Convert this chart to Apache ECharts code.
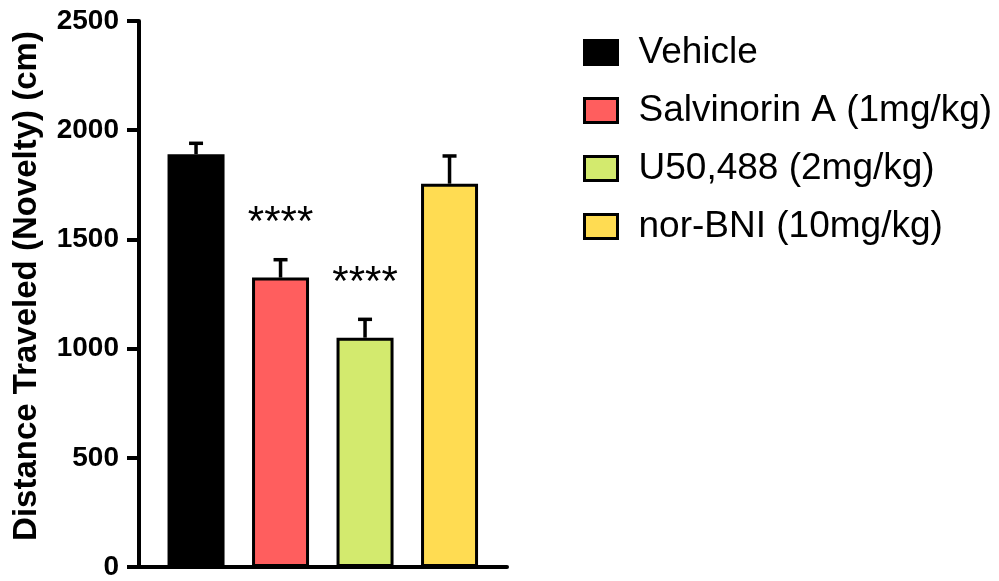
<!DOCTYPE html>
<html>
<head>
<meta charset="utf-8">
<script src="https://cdn.jsdelivr.net/npm/echarts@6/dist/echarts.min.js"></script>
<style>
  html, body { margin: 0; padding: 0; background: #ffffff; }
  #chart { width: 999px; height: 581px; }
</style>
</head>
<body>
<div id="chart"></div>
<script>
// Treatment groups, mean distance traveled and SEM (cm)
const groups = ['Vehicle', 'Salvinorin A (1mg/kg)', 'U50,488 (2mg/kg)', 'nor-BNI (10mg/kg)'];
const means = [1890, 1325, 1050, 1755];
const sems = [50, 82, 84, 127];
const significance = ['', '****', '****', ''];
const yTicks = [0, 500, 1000, 1500, 2000, 2500];
const colors = ['#000000', '#FF5E5E', '#D3EA6E', '#FFDC52'];

const FONT = '"Liberation Sans", Arial, Helvetica, sans-serif';

const chart = echarts.init(document.getElementById('chart'), null, { renderer: 'canvas' });

const barSeries = groups.map((name, i) => ({
  name: name,
  type: 'bar',
  data: [[i, means[i]]],
  barWidth: 57,
  barGap: '-100%',
  itemStyle: { color: colors[i], borderColor: '#000000', borderWidth: 3 },
  emphasis: { disabled: true }
}));

// Upper error bars with significance markers above them
const errorSeries = {
  type: 'custom',
  z: 3,
  data: means.map((m, i) => [i, m, m + sems[i], i]),
  renderItem: function (params, api) {
    const x = api.value(0);
    const idx = api.value(3);
    const base = api.coord([x, api.value(1)]);
    const top = api.coord([x, api.value(2)]);
    const capHalf = 7;
    const children = [
      { type: 'line', shape: { x1: base[0], y1: base[1], x2: top[0], y2: top[1] },
        style: { stroke: '#000', lineWidth: 3.5 } },
      { type: 'line', shape: { x1: top[0] - capHalf, y1: top[1], x2: top[0] + capHalf, y2: top[1] },
        style: { stroke: '#000', lineWidth: 3.5 } }
    ];
    const mark = significance[idx];
    if (mark) {
      children.push({
        type: 'text',
        style: {
          text: mark, x: top[0], y: top[1] - 36,
          textAlign: 'center', textVerticalAlign: 'middle',
          font: '42px ' + FONT, fill: '#000'
        }
      });
    }
    return { type: 'group', children: children };
  }
};

chart.setOption({
  animation: false,
  backgroundColor: '#ffffff',
  textStyle: { fontFamily: FONT, color: '#000' },
  grid: { left: 139, right: 492, top: 21, bottom: 14, containLabel: false },
  legend: {
    data: groups,
    orient: 'vertical',
    left: 583,
    top: 34,
    padding: 0,
    itemWidth: 33,
    itemHeight: 24,
    itemGap: 21,
    icon: 'rect',
    selectedMode: false,
    itemStyle: { borderColor: '#000', borderWidth: 3 },
    textStyle: { fontSize: 37, fontFamily: FONT, color: '#000', padding: [0, 0, 0, 16] }
  },
  xAxis: {
    type: 'value',
    min: -0.675,
    max: 3.68,
    axisLine: { show: true, onZero: false, lineStyle: { color: '#000', width: 4 } },
    axisTick: { show: false },
    axisLabel: { show: false },
    splitLine: { show: false }
  },
  yAxis: {
    type: 'value',
    min: yTicks[0],
    max: yTicks[yTicks.length - 1],
    interval: yTicks[1] - yTicks[0],
    name: 'Distance Traveled (Novelty) (cm)',
    nameLocation: 'middle',
    nameRotate: 90,
    nameGap: 96,
    nameTextStyle: { fontSize: 33, fontWeight: 'bold', fontFamily: FONT, color: '#000', padding: [0, 0, 0, 16] },
    axisLine: { show: true, onZero: false, lineStyle: { color: '#000', width: 4 } },
    axisTick: { show: true, inside: false, length: 12, lineStyle: { color: '#000', width: 4 } },
    axisLabel: { fontSize: 28, fontWeight: 'bold', fontFamily: FONT, color: '#000', margin: 20,
      formatter: v => String(v) },
    splitLine: { show: false }
  },
  series: barSeries.concat([errorSeries])
});
</script>
</body>
</html>
